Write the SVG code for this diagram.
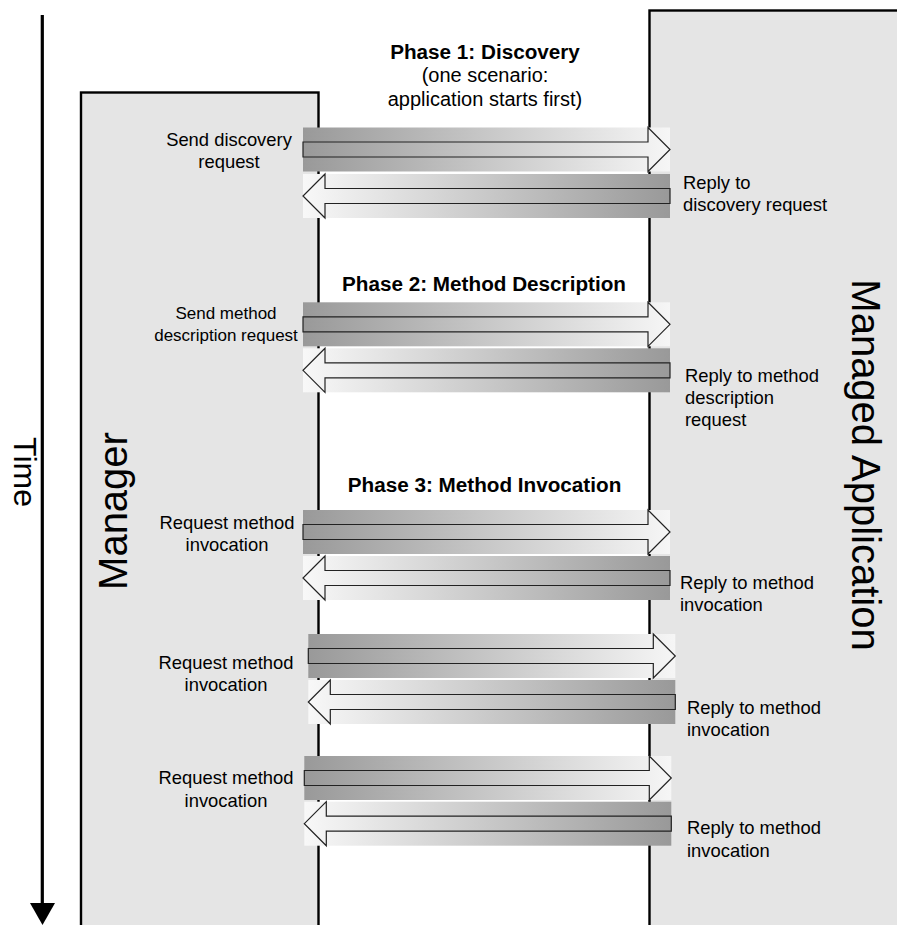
<svg xmlns="http://www.w3.org/2000/svg" width="897" height="925" viewBox="0 0 897 925">
<defs>
<linearGradient id="gR" x1="0" y1="0" x2="1" y2="0"><stop offset="0" stop-color="#999999"/><stop offset="1" stop-color="#f6f6f6"/></linearGradient>
<linearGradient id="gL" x1="0" y1="0" x2="1" y2="0"><stop offset="0" stop-color="#f8f8f8"/><stop offset="1" stop-color="#999999"/></linearGradient>
</defs>
<style>
text{font-family:"Liberation Sans",Arial,Helvetica,sans-serif;fill:#000}
.lbl{font-size:18.4px}
.sm{font-size:17px}
.ttl{font-size:20.7px;font-weight:bold}
.sub{font-size:20px}
.big{font-size:40px}
.tm{font-size:32px}
.lane{fill:#e5e5e5;stroke:#000;stroke-width:2.4}
.r rect{fill:url(#gR)}
.r path{fill:url(#gR);stroke:#222;stroke-width:1.2}
.l rect{fill:url(#gL)}
.l path{fill:url(#gL);stroke:#222;stroke-width:1.2}
.c{text-anchor:middle}
</style>
<rect width="897" height="925" fill="#fff"/>
<g id="time">
<line x1="42.3" y1="15" x2="42.3" y2="906" stroke="#000" stroke-width="3.2"/>
<polygon points="30,903 55,903 42.5,925" fill="#000"/>
<text class="tm c" transform="translate(14,472) rotate(90)">Time</text>
</g>
<g id="manager">
<rect class="lane" x="81" y="92.5" width="237.5" height="860"/>
<text class="big c" transform="translate(127,511) rotate(-90)">Manager</text>
</g>
<g id="managed-application">
<rect class="lane" x="649.5" y="10.5" width="270" height="940"/>
<text class="big c" transform="translate(852,465) rotate(90)">Managed Application</text>
</g>
<g id="phase1">
<text class="ttl c" x="485" y="59">Phase 1: Discovery</text>
<text class="sub c" x="485" y="82">(one scenario:</text>
<text class="sub c" x="485" y="106">application starts first)</text>
</g>
<g id="phase2"><text class="ttl c" x="484" y="291">Phase 2: Method Description</text></g>
<g id="phase3"><text class="ttl c" x="484.5" y="492">Phase 3: Method Invocation</text></g>
<g id="connectors">
<g class="r" transform="translate(303,127.5)"><rect width="367" height="44"/><path d="M0,14.5H345V0L367,22L345,44V29.5H0Z"/></g>
<g class="l" transform="translate(303,174)"><rect width="367" height="44"/><path d="M367,14.5H22V0L0,22L22,44V29.5H367Z"/></g>
<g class="r" transform="translate(303,302.3)"><rect width="367" height="44"/><path d="M0,14.5H345V0L367,22L345,44V29.5H0Z"/></g>
<g class="l" transform="translate(303,348.3)"><rect width="367" height="44"/><path d="M367,14.5H22V0L0,22L22,44V29.5H367Z"/></g>
<g class="r" transform="translate(303,510)"><rect width="367" height="44"/><path d="M0,14.5H345V0L367,22L345,44V29.5H0Z"/></g>
<g class="l" transform="translate(303,556)"><rect width="367" height="44"/><path d="M367,14.5H22V0L0,22L22,44V29.5H367Z"/></g>
<g class="r" transform="translate(308.3,634)"><rect width="367" height="44"/><path d="M0,14.5H345V0L367,22L345,44V29.5H0Z"/></g>
<g class="l" transform="translate(308.3,680)"><rect width="367" height="44"/><path d="M367,14.5H22V0L0,22L22,44V29.5H367Z"/></g>
<g class="r" transform="translate(304.3,756)"><rect width="367" height="44"/><path d="M0,14.5H345V0L367,22L345,44V29.5H0Z"/></g>
<g class="l" transform="translate(304.3,801.7)"><rect width="367" height="44"/><path d="M367,14.5H22V0L0,22L22,44V29.5H367Z"/></g>
</g>
<g id="labels">
<text class="lbl c" x="229" y="146">Send discovery</text>
<text class="lbl c" x="229" y="168">request</text>
<text class="lbl" x="683" y="189">Reply to</text>
<text class="lbl" x="683" y="211">discovery request</text>
<text class="sm c" x="226" y="319">Send method</text>
<text class="sm c" x="226" y="341">description request</text>
<text class="lbl" x="685" y="382">Reply to method</text>
<text class="lbl" x="685" y="404">description</text>
<text class="lbl" x="685" y="426">request</text>
<text class="lbl c" x="227" y="529">Request method</text>
<text class="lbl c" x="227" y="551">invocation</text>
<text class="lbl" x="680" y="589">Reply to method</text>
<text class="lbl" x="680" y="611">invocation</text>
<text class="lbl c" x="226" y="669">Request method</text>
<text class="lbl c" x="226" y="691">invocation</text>
<text class="lbl" x="687" y="714">Reply to method</text>
<text class="lbl" x="687" y="736">invocation</text>
<text class="lbl c" x="226" y="784">Request method</text>
<text class="lbl c" x="226" y="807">invocation</text>
<text class="lbl" x="687" y="834">Reply to method</text>
<text class="lbl" x="687" y="857">invocation</text>
</g>
</svg>
